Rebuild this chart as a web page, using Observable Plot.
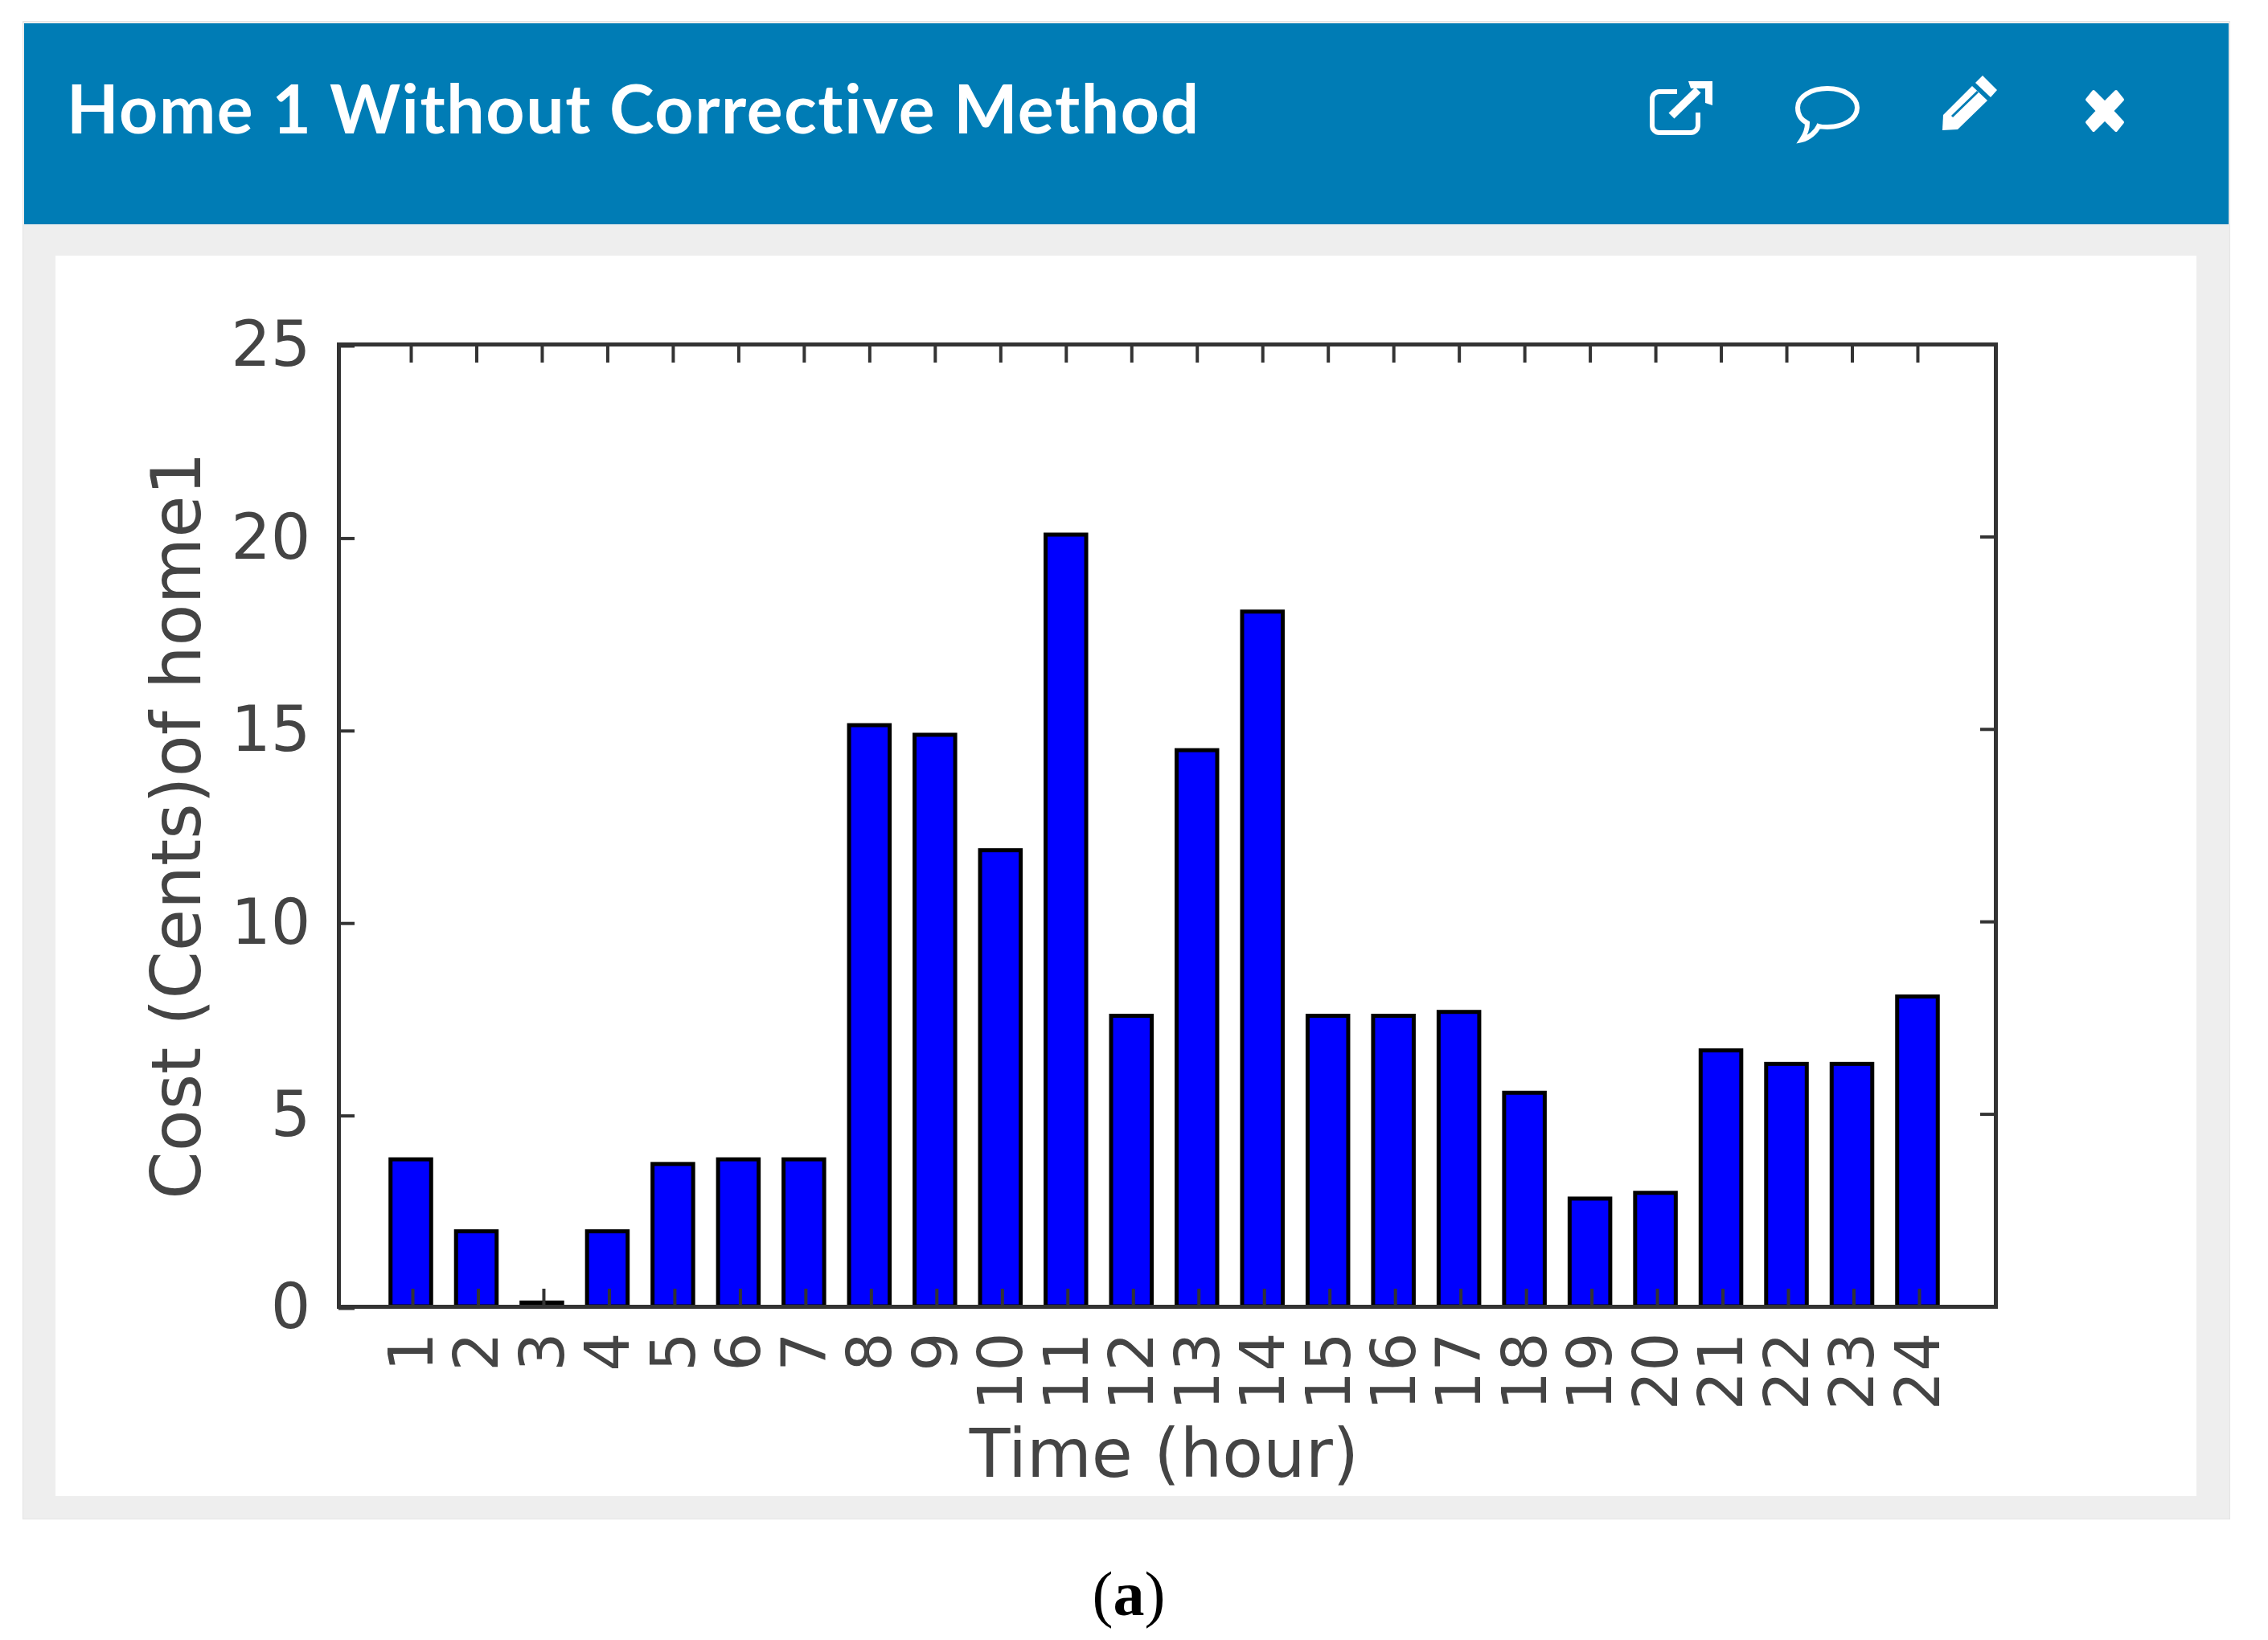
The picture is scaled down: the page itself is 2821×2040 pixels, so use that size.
<!DOCTYPE html>
<html>
<head>
<meta charset="utf-8">
<script src="https://cdn.jsdelivr.net/npm/d3@7"></script>
<script src="https://cdn.jsdelivr.net/npm/@observablehq/plot@0.6"></script>
<style>
html,body{margin:0;padding:0;background:#fff;}
#page{position:relative;width:2821px;height:2040px;overflow:hidden;background:#fff;}
#panel{position:absolute;left:29px;top:27px;width:2744px;height:1862px;background:#eeeeee;box-shadow:0 0 0 1px #e4e4e4;}
#head{position:absolute;left:30px;top:29px;width:2742px;height:250px;background:#007cb5;}
#title{position:absolute;left:83px;top:84px;font:700 84px/100px Lato,"Open Sans",sans-serif;color:#fff;white-space:nowrap;letter-spacing:1.6px;}
#chart{position:absolute;left:69px;top:318px;width:2663px;height:1543px;background:#fff;}
#chart svg{display:block;}
#cap{position:absolute;left:0;width:2808px;top:1938px;text-align:center;font:78px/90px "Liberation Serif",serif;color:#000;}
#cap b{font-weight:700;}
.ico{position:absolute;overflow:visible;}
</style>
</head>
<body>
<div id="page">
  <div id="panel"></div>
  <div id="head"></div>
  <div id="title"></div>
  <svg class="ico" style="left:2050px;top:98px" width="82" height="72" viewBox="0 0 82 72" fill="none" stroke="#fff" stroke-width="6">
    <path d="M36 16H14a9 9 0 0 0-9 9v33a9 9 0 0 0 9 9h39a9 9 0 0 0 9-9V42"/>
    <path d="M29 46L62 14" stroke-width="10"/>
    <path d="M50 3H80V33L71 30V12H53Z" fill="#fff" stroke="none"/>
  </svg>
  <svg class="ico" style="left:2232px;top:106px" width="82" height="72" viewBox="0 0 82 72" fill="none" stroke="#fff" stroke-width="6">
    <path d="M41 4C61 4 78 14 78 28S61 52 41 52C37 52 33 52 30 51C27 58 18 66 9 68C13 62 16 55 16 47C8 43 4 36 4 28C4 14 21 4 41 4Z"/>
  </svg>
  <svg class="ico" style="left:2414px;top:92px" width="72" height="72" viewBox="0 0 72 72">
    <path d="M52 2L70 20L62 29L43 11Z" fill="#fff"/>
    <path d="M39 15L58 33L21 69L2 70L3 51Z" fill="#fff"/>
    <path d="M14 53L46 22" stroke="#007cb5" stroke-width="3" fill="none"/>
  </svg>
  <svg class="ico" style="left:2590px;top:110px" width="56" height="56" viewBox="0 0 56 56">
    <path d="M6 14L14 4L28 18L42 4L50 14L37 28L50 42L42 52L28 38L14 52L6 42L19 28Z" fill="#fff" stroke="#fff" stroke-width="4" stroke-linejoin="round"/>
  </svg>
  <div id="chart"></div>
  <div id="cap">(<b>a</b>)</div>
</div>
<script>
const titleText = "Home 1 Without Corrective Method";
const xLabel = "Time (hour)";
const yLabel = "Cost (Cents)of home1";
const hours = [1,2,3,4,5,6,7,8,9,10,11,12,13,14,15,16,17,18,19,20,21,22,23,24];
const cost = [3.82,1.95,0.1,1.95,3.7,3.82,3.82,15.1,14.85,11.85,20.05,7.55,14.45,18.05,7.55,7.55,7.65,5.55,2.8,2.95,6.65,6.3,6.3,8.05];
const yTicks = [0,5,10,15,20,25];
const rows = hours.map((h,i)=>({hour:h,cost:cost[i]}));

document.getElementById("title").textContent = titleText;

const ink = "#444";
const lineStyle = {stroke:"#333",strokeWidth:4,strokeOpacity:1};
const chart = Plot.plot({
  width: 2663,
  height: 1543,
  marginLeft: 352,
  marginRight: 250,
  marginTop: 110,
  marginBottom: 236,
  style: {background:"#fff", fontFamily:"'DejaVu Sans',sans-serif", color:ink, overflow:"visible"},
  x: {type:"band", domain:hours, range:[416.75,2341.25], paddingInner:0.38, paddingOuter:0, round:false, label:null},
  y: {domain:[0,25], label:null},
  marks: [
    Plot.barY(rows,{x:"hour",y:"cost",fill:"#0000ff",stroke:"#000",strokeWidth:5}),
    Plot.axisX({anchor:"bottom",tickSize:-22,tickPadding:54,tickRotate:-90,fontSize:76,dx:2,label:null,...lineStyle}),
    Plot.axisX({anchor:"top",tickSize:-22,text:null,label:null,...lineStyle}),
    Plot.axisY(yTicks,{anchor:"left",tickSize:-20,tickPadding:55,fontSize:78,dy:2,label:null,...lineStyle}),
    Plot.axisY(yTicks,{anchor:"right",tickSize:-20,text:null,label:null,...lineStyle}),
    Plot.frame({stroke:"#333",strokeWidth:5}),
    Plot.text([xLabel],{frameAnchor:"bottom",dy:185,dx:-4,text:d=>d,fontSize:83,lineAnchor:"middle",fill:ink}),
    Plot.text([yLabel],{frameAnchor:"left",dx:-200,text:d=>d,fontSize:85,rotate:-90,textAnchor:"middle",fill:ink})
  ]
});
document.getElementById("chart").appendChild(chart);
</script>
</body>
</html>
